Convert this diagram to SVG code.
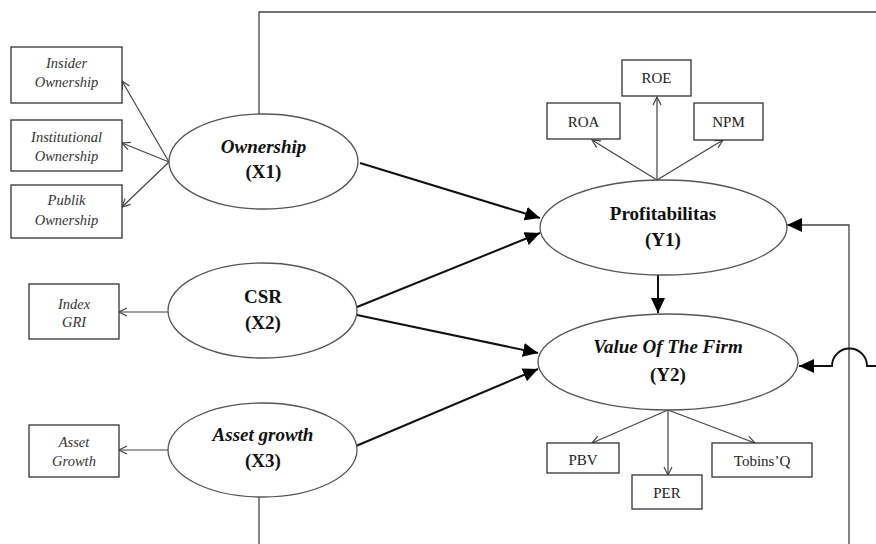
<svg xmlns="http://www.w3.org/2000/svg" width="876" height="544" viewBox="0 0 876 544" font-family="Liberation Serif, Times New Roman, DejaVu Serif, serif">
<style>
.box{fill:#fff;stroke:#333;stroke-width:1.3}
.ell{fill:#fff;stroke:#555;stroke-width:1.3}
.ln{fill:none;stroke:#444;stroke-width:1.3}
.thin{fill:none;stroke:#444;stroke-width:1.2}
.bold{fill:none;stroke:#111;stroke-width:2}
.it{font-style:italic;font-size:14.5px;fill:#333;text-anchor:middle}
.rg{font-size:15px;fill:#222;text-anchor:middle}
.lab{font-weight:bold;font-size:19px;fill:#111;text-anchor:middle}
</style>
<defs>
<marker id="open" markerWidth="10" markerHeight="10" refX="9" refY="5" orient="auto" markerUnits="userSpaceOnUse">
<path d="M1,1 L9,5 L1,9" fill="none" stroke="#444" stroke-width="1.2"/>
</marker>
<marker id="solid" markerWidth="16" markerHeight="14" refX="15" refY="7" orient="auto" markerUnits="userSpaceOnUse">
<path d="M0,0 L15,7 L0,14 Z" fill="#000"/>
</marker>
<clipPath id="pbvclip"><rect x="547" y="455" width="72" height="20"/></clipPath>
</defs>

<g id="connectors">
<polyline class="ln" points="259,114 259,12 876,12"/>
<line class="ln" x1="259" y1="497" x2="259" y2="544"/>
<polyline class="ln" points="849,544 849,225 787,225" marker-end="url(#solid)"/>
<path class="bold" d="M876,366 L867,366 A17.5,17.5 0 0 0 832,366 L799,366" marker-end="url(#solid)"/>

<line class="thin" x1="169" y1="162" x2="122" y2="81" marker-end="url(#open)"/>
<line class="thin" x1="169" y1="162" x2="122" y2="143" marker-end="url(#open)"/>
<line class="thin" x1="169" y1="162" x2="122" y2="207" marker-end="url(#open)"/>
<line class="thin" x1="168" y1="312" x2="119" y2="312" marker-end="url(#open)"/>
<line class="thin" x1="168" y1="450" x2="119" y2="450" marker-end="url(#open)"/>

<line class="thin" x1="657" y1="180" x2="592" y2="140" marker-end="url(#open)"/>
<line class="thin" x1="657" y1="180" x2="657" y2="97" marker-end="url(#open)"/>
<line class="thin" x1="657" y1="180" x2="723" y2="140" marker-end="url(#open)"/>

<line class="thin" x1="668" y1="410" x2="592" y2="443" marker-end="url(#open)"/>
<line class="thin" x1="668" y1="410" x2="668" y2="475" marker-end="url(#open)"/>
<line class="thin" x1="668" y1="410" x2="755" y2="443" marker-end="url(#open)"/>

<line class="bold" x1="360" y1="163" x2="540" y2="218" marker-end="url(#solid)"/>
<line class="bold" x1="357" y1="307" x2="540" y2="233" marker-end="url(#solid)"/>
<line class="bold" x1="357" y1="315" x2="538" y2="353" marker-end="url(#solid)"/>
<line class="bold" x1="356" y1="446" x2="538" y2="369" marker-end="url(#solid)"/>
<line class="bold" x1="658" y1="275" x2="658" y2="313" marker-end="url(#solid)"/>
</g>

<g id="insider"><rect class="box" x="11" y="47" width="111" height="56"/><text class="it" x="66.5" y="68">Insider</text><text class="it" x="66.5" y="87">Ownership</text></g>
<g id="institutional"><rect class="box" x="11" y="120" width="111" height="51"/><text class="it" x="66.5" y="142">Institutional</text><text class="it" x="66.5" y="161">Ownership</text></g>
<g id="publik"><rect class="box" x="11" y="185" width="111" height="53"/><text class="it" x="66.5" y="205">Publik</text><text class="it" x="66.5" y="225">Ownership</text></g>
<g id="indexgri"><rect class="box" x="29" y="284" width="90" height="55"/><text class="it" x="74" y="309">Index</text><text class="it" x="74" y="327">GRI</text></g>
<g id="assetgrowthbox"><rect class="box" x="29" y="425" width="90" height="52"/><text class="it" x="74" y="447">Asset</text><text class="it" x="74" y="466">Growth</text></g>

<g id="ownership"><ellipse class="ell" cx="263.5" cy="161.5" rx="94.5" ry="47.5"/><text class="lab" x="263.5" y="153" font-style="italic">Ownership</text><text class="lab" x="263.5" y="178">(X1)</text></g>
<g id="csr"><ellipse class="ell" cx="262.5" cy="310.5" rx="94.5" ry="47.5"/><text class="lab" x="263" y="303">CSR</text><text class="lab" x="263" y="329">(X2)</text></g>
<g id="assetgrowth"><ellipse class="ell" cx="262.5" cy="450" rx="94.5" ry="47"/><text class="lab" x="263" y="441" font-style="italic">Asset growth</text><text class="lab" x="263" y="467">(X3)</text></g>

<g id="profitabilitas"><ellipse class="ell" cx="663.5" cy="227.5" rx="123.5" ry="47.5"/><text class="lab" x="663" y="220">Profitabilitas</text><text class="lab" x="663" y="246">(Y1)</text></g>
<g id="value"><ellipse class="ell" cx="668" cy="362" rx="130" ry="48"/><text class="lab" x="668" y="353" font-style="italic">Value Of The Firm</text><text class="lab" x="668" y="381">(Y2)</text></g>

<g id="roa"><rect class="box" x="547" y="103" width="73" height="36"/><text class="rg" x="583.5" y="127">ROA</text></g>
<g id="roe"><rect class="box" x="622" y="60" width="69" height="36"/><text class="rg" x="656.5" y="83">ROE</text></g>
<g id="npm"><rect class="box" x="694" y="103" width="69" height="37"/><text class="rg" x="728.5" y="127">NPM</text></g>

<g id="pbv"><rect class="box" x="547" y="443" width="72" height="30"/><text class="rg" x="583" y="465" clip-path="url(#pbvclip)">PBV</text></g>
<g id="per"><rect class="box" x="632" y="475" width="70" height="34"/><text class="rg" x="667" y="498">PER</text></g>
<g id="tobins"><rect class="box" x="712" y="443" width="100" height="34"/><text class="rg" x="762" y="466">Tobins’Q</text></g>
</svg>
